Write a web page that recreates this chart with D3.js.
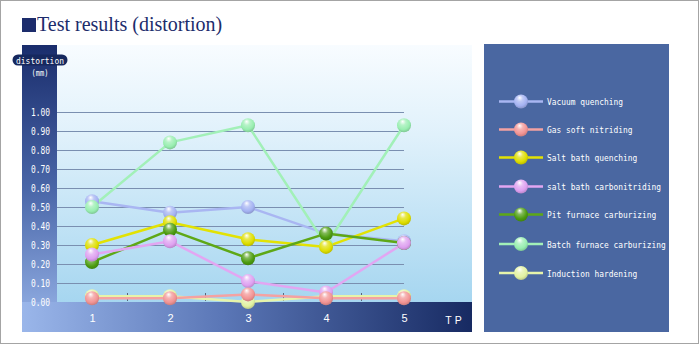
<!DOCTYPE html>
<html>
<head>
<meta charset="utf-8">
<script src="https://cdn.jsdelivr.net/npm/d3@7"></script>
<style>
  html, body { margin: 0; padding: 0; background: #fff; }
  svg { display: block; }
</style>
</head>
<body>
<svg id="chart" width="700" height="345"></svg>
<script>
// Test points along the x axis
const testPoints = [1, 2, 3, 4, 5];
const yTickValues = [0, 0.1, 0.2, 0.3, 0.4, 0.5, 0.6, 0.7, 0.8, 0.9, 1.0];

// Distortion (mm) per treatment, one value per test point
const vacuumQuenching        = [0.53, 0.47, 0.50, 0.36, 0.32];
const gasSoftNitriding       = [0.02, 0.02, 0.04, 0.02, 0.02];
const saltBathQuenching      = [0.30, 0.42, 0.33, 0.29, 0.44];
const saltBathCarbonitriding = [0.25, 0.32, 0.11, 0.05, 0.31];
const pitFurnaceCarburizing  = [0.21, 0.38, 0.23, 0.36, 0.31];
const batchFurnaceCarburizing= [0.50, 0.84, 0.93, 0.30, 0.93];
const inductionHardening     = [0.03, 0.03, 0.00, 0.03, 0.03];

const seriesNames = [
  "Vacuum quenching", "Gas soft nitriding", "Salt bath quenching",
  "salt bath carbonitriding", "Pit furnace carburizing",
  "Batch furnace carburizing", "Induction hardening"
];
const seriesValues = [
  vacuumQuenching, gasSoftNitriding, saltBathQuenching,
  saltBathCarbonitriding, pitFurnaceCarburizing,
  batchFurnaceCarburizing, inductionHardening
];
const lineColors = ["#a9b6f2", "#f4a2a2", "#e2e204", "#e2a6f2", "#5ea816", "#a2f0b8", "#e6f4aa"];
const ballColors = ["#a4b2f2", "#f29494", "#dede00", "#dea0f0", "#4c9c10", "#98eeb0", "#e2f2a2"];
const drawOrder = [6, 0, 5, 2, 4, 3, 1];

const svg = d3.select("#chart");
const defs = svg.append("defs");

function linGrad(id, x1, y1, x2, y2, stops) {
  const g = defs.append("linearGradient").attr("id", id)
    .attr("x1", x1).attr("y1", y1).attr("x2", x2).attr("y2", y2);
  stops.forEach(s => g.append("stop").attr("offset", s[0]).attr("stop-color", s[1]));
}
linGrad("plotBg", 0, 0, 0, 1, [[0, "#f8fcff"], [0.35, "#e0f1fb"], [1, "#a6d6f0"]]);
linGrad("yBand", 0, 0, 0, 1, [[0, "#1a2d6c"], [0.5, "#4966a8"], [1, "#9ab6ea"]]);
linGrad("xBand", 0, 0, 1, 0, [[0, "#9ab6ea"], [0.45, "#5a76b6"], [1, "#172a62"]]);

ballColors.forEach((c, i) => {
  const g = defs.append("radialGradient").attr("id", "ball" + i)
    .attr("cx", "45%").attr("cy", "38%").attr("r", "62%")
    .attr("fx", "40%").attr("fy", "22%");
  g.append("stop").attr("offset", 0).attr("stop-color", "#ffffff");
  g.append("stop").attr("offset", 0.35).attr("stop-color", d3.interpolateRgb(c, "#ffffff")(0.3));
  g.append("stop").attr("offset", 0.75).attr("stop-color", c);
  g.append("stop").attr("offset", 1).attr("stop-color", d3.color(c).darker(0.5));
});

// Outer frame
svg.append("rect").attr("x", 0.5).attr("y", 0.5).attr("width", 698).attr("height", 343)
  .attr("fill", "#fff").attr("stroke", "#a4a4a4");

// Title
svg.append("rect").attr("x", 22).attr("y", 18).attr("width", 14).attr("height", 14).attr("fill", "#1c2c6c");
svg.append("text").attr("x", 37).attr("y", 31)
  .attr("font-family", "'Liberation Serif', 'Times New Roman', serif")
  .attr("font-size", 20).attr("fill", "#1c2c6c")
  .text("Test results (distortion)");

// Scales
const x = d3.scaleLinear().domain([1, 5]).range([92, 404]);
const y = d3.scaleLinear().domain([0, 1]).range([302, 112]);

// Panels
svg.append("rect").attr("x", 57).attr("y", 45).attr("width", 415).attr("height", 257).attr("fill", "url(#plotBg)");
svg.append("rect").attr("x", 22).attr("y", 45).attr("width", 35).attr("height", 287).attr("fill", "url(#yBand)");
svg.append("rect").attr("x", 22).attr("y", 302).attr("width", 450).attr("height", 30).attr("fill", "url(#xBand)");

// Axis title badge
svg.append("rect").attr("x", 12.5).attr("y", 54.5).attr("width", 55).attr("height", 11)
  .attr("rx", 5.5).attr("fill", "#16285e");
const monoFont = "'DejaVu Sans Mono', monospace";
svg.append("text").attr("x", 40).attr("y", 63.5).attr("text-anchor", "middle")
  .attr("font-family", monoFont).attr("font-size", 9.5).attr("fill", "#fff")
  .attr("textLength", 48).attr("lengthAdjust", "spacingAndGlyphs").text("distortion");
svg.append("text").attr("x", 40).attr("y", 75.5).attr("text-anchor", "middle")
  .attr("font-family", monoFont).attr("font-size", 9.5).attr("fill", "#fff")
  .attr("textLength", 17).attr("lengthAdjust", "spacingAndGlyphs").text("(mm)");

// Gridlines
svg.append("g").selectAll("line").data(yTickValues.filter(v => v > 0)).join("line")
  .attr("x1", 57).attr("x2", x(5))
  .attr("y1", d => Math.round(y(d)) + 0.5).attr("y2", d => Math.round(y(d)) + 0.5)
  .attr("stroke", "#7a8fb0").attr("stroke-width", 1);

// Y axis labels
const yAxis = svg.append("g").attr("transform", "translate(57,0)")
  .call(d3.axisLeft(y).tickValues(yTickValues).tickFormat(d3.format(".2f")).tickSize(0).tickPadding(7));
yAxis.select(".domain").remove();
yAxis.selectAll("text").attr("fill", "#fff").attr("font-family", monoFont).attr("font-size", 10)
  .attr("textLength", 19).attr("lengthAdjust", "spacingAndGlyphs");

// Small category separators on the zero line
svg.append("g").selectAll("line").data(testPoints.slice(0, -1)).join("line")
  .attr("x1", d => Math.round(x(d + 0.5)) - 3.5).attr("x2", d => Math.round(x(d + 0.5)) - 3.5)
  .attr("y1", y(0) - 9).attr("y2", y(0) - 1)
  .attr("stroke", "#5a6478").attr("stroke-width", 1);

// X axis labels
const xAxis = svg.append("g").attr("transform", `translate(0,${y(0)})`)
  .call(d3.axisBottom(x).tickValues(testPoints).tickFormat(d3.format("d")).tickSize(0).tickPadding(12));
xAxis.select(".domain").remove();
xAxis.selectAll("text").attr("fill", "#fff").attr("font-family", "'Liberation Sans', Arial, sans-serif")
  .attr("font-size", 11);
svg.append("text").attr("x", 455).attr("y", 323.5).attr("text-anchor", "middle")
  .attr("font-family", "'Liberation Sans', Arial, sans-serif").attr("font-size", 10.5)
  .attr("letter-spacing", 3).attr("fill", "#fff").text("TP");

// Series lines and markers
const line = d3.line().x((d, i) => x(testPoints[i])).y(d => y(d));
const linesG = svg.append("g");
drawOrder.forEach(si => {
  linesG.append("path").datum(seriesValues[si]).attr("d", line)
    .attr("fill", "none").attr("stroke", lineColors[si]).attr("stroke-width", 2.5)
    .attr("stroke-linejoin", "round");
});
const ballsG = svg.append("g");
drawOrder.forEach(si => {
  ballsG.append("g").selectAll("circle").data(seriesValues[si]).join("circle")
    .attr("cx", (d, i) => x(testPoints[i])).attr("cy", d => y(d)).attr("r", 7)
    .attr("fill", `url(#ball${si})`);
});

// Legend
svg.append("rect").attr("x", 484).attr("y", 44).attr("width", 185).attr("height", 288).attr("fill", "#4a67a1");
const legendY = [101.5, 129.5, 157.5, 186.5, 214.5, 244, 273];
const legend = svg.append("g").selectAll("g").data(seriesNames).join("g")
  .attr("transform", (d, i) => `translate(0,${legendY[i]})`);
legend.append("line").attr("x1", 499).attr("x2", 543).attr("y1", 0).attr("y2", 0)
  .attr("stroke", (d, i) => lineColors[i]).attr("stroke-width", 2.5);
legend.append("circle").attr("cx", 521).attr("cy", 0).attr("r", 7)
  .attr("fill", (d, i) => `url(#ball${i})`);
legend.append("text").attr("x", 547).attr("y", 3.5)
  .attr("font-family", monoFont).attr("font-size", 9.5).attr("fill", "#fff")
  .attr("textLength", d => d.length * 4.75).attr("lengthAdjust", "spacingAndGlyphs")
  .text(d => d);
</script>
</body>
</html>
